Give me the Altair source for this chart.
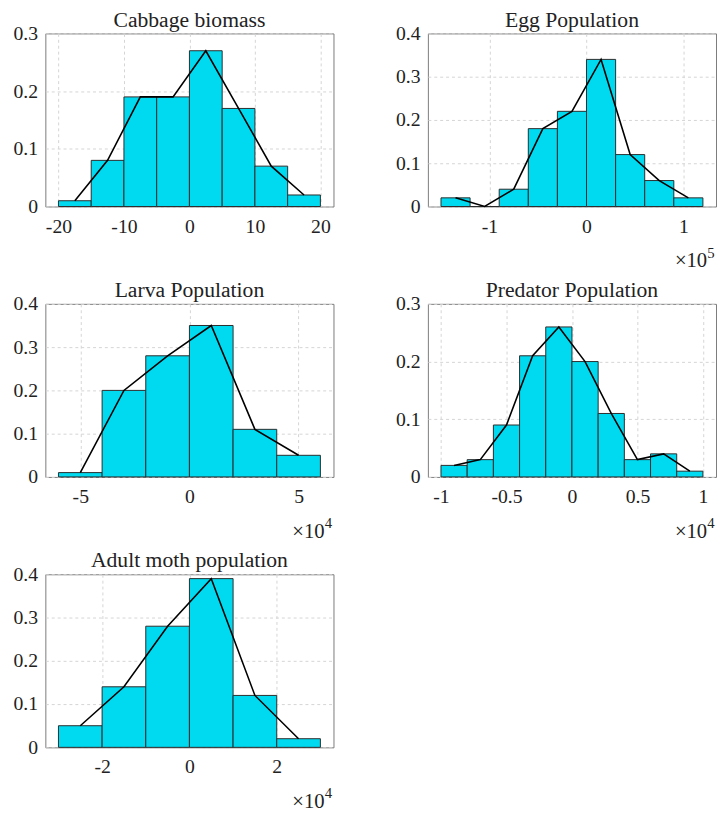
import altair as alt
import pandas as pd

SERIF = "Liberation Serif"
BAR = "#00DAF0"

# histogram data (bin edges in axis units, relative frequency per bin)
cabbage_edges = [-20, -15, -10, -5, 0, 5, 10, 15, 20]
cabbage_freq = [0.01, 0.08, 0.19, 0.19, 0.27, 0.17, 0.07, 0.02]

egg_edges = [-1.5, -1.2, -0.9, -0.6, -0.3, 0, 0.3, 0.6, 0.9, 1.2]  # x 1e5
egg_freq = [0.02, 0.0, 0.04, 0.18, 0.22, 0.34, 0.12, 0.06, 0.02]

larva_edges = [-6, -4, -2, 0, 2, 4, 6]  # x 1e4
larva_freq = [0.01, 0.20, 0.28, 0.35, 0.11, 0.05]

predator_edges = [-1, -0.8, -0.6, -0.4, -0.2, 0, 0.2, 0.4, 0.6, 0.8, 1]  # x 1e4
predator_freq = [0.02, 0.03, 0.09, 0.21, 0.26, 0.20, 0.11, 0.03, 0.04, 0.01]

moth_edges = [-3, -2, -1, 0, 1, 2, 3]  # x 1e4
moth_freq = [0.05, 0.14, 0.28, 0.39, 0.12, 0.02]

W, H = 293, 176
neg_label = "datum.value < 0 ? '-' + format(-datum.value, '~g') : format(datum.value, '~g')"


def panel(title, edges, freq, ymax, xticks, exp=None):
    df = pd.DataFrame({
        'lo': edges[:-1], 'hi': edges[1:], 'f': freq,
        'mid': [(a + b) / 2 for a, b in zip(edges[:-1], edges[1:])],
    })
    pad = (edges[-1] - edges[0]) * 0.05
    xscale = alt.Scale(domain=[edges[0] - pad, edges[-1] + pad], nice=False, zero=False)
    yscale = alt.Scale(domain=[0, ymax], nice=False)
    yticks = [round(v * 0.1, 1) for v in range(int(round(ymax * 10)) + 1)]

    xax = alt.Axis(values=xticks, title=None, grid=True, gridDash=[3, 3], gridColor='#d4d4d4',
                   domain=False, ticks=False, labelExpr=neg_label, labelPadding=10)
    yax = alt.Axis(values=yticks, title=None, grid=True, gridDash=[3, 3], gridColor='#d4d4d4',
                   domain=False, ticks=False, labelExpr=neg_label, labelPadding=8)

    bars = alt.Chart(df).mark_rect(fill=BAR, stroke='#2b2b2b', strokeWidth=1).encode(
        x=alt.X('lo:Q', scale=xscale, axis=xax),
        x2='hi:Q',
        y=alt.Y('f:Q', scale=yscale, axis=yax),
        y2=alt.datum(0),
    )
    line = alt.Chart(df).mark_line(color='black', strokeWidth=1.6).encode(
        x=alt.X('mid:Q', scale=xscale),
        y=alt.Y('f:Q', scale=yscale),
    )
    layers = [bars, line]
    if exp is not None:
        one = alt.Data(values=[{}])
        base = alt.Chart(one).mark_text(font=SERIF, fontSize=21, align='right', color='#222').encode(
            text=alt.value('×10'), x=alt.value(W - 9), y=alt.value(H + 56))
        sup = alt.Chart(one).mark_text(font=SERIF, fontSize=15, align='left', color='#222').encode(
            text=alt.value(exp), x=alt.value(W - 9), y=alt.value(H + 47))
        layers += [base, sup]
    return alt.layer(*layers).properties(
        width=W, height=H,
        title=alt.Title(title, font=SERIF, fontSize=22, fontWeight='normal', color='#222', offset=-8),
    )


p1 = panel('Cabbage biomass', cabbage_edges, cabbage_freq, 0.3, [-20, -10, 0, 10, 20])
p2 = panel('Egg Population', egg_edges, egg_freq, 0.4, [-1, 0, 1], exp='5')
p3 = panel('Larva Population', larva_edges, larva_freq, 0.4, [-5, 0, 5], exp='4')
p4 = panel('Predator Population', predator_edges, predator_freq, 0.3, [-1, -0.5, 0, 0.5, 1], exp='4')
p5 = panel('Adult moth population', moth_edges, moth_freq, 0.4, [-2, 0, 2], exp='4')

chart = alt.vconcat(
    alt.hconcat(p1, p2, spacing=61),
    alt.hconcat(p3, p4, spacing=61),
    p5,
    spacing=6,
).properties(
    padding={'left': 4, 'top': -7, 'right': 0, 'bottom': 0}
).configure_view(
    stroke='#7a7a7a', strokeWidth=1
).configure_axis(
    labelFont=SERIF, labelFontSize=20, labelColor='#222'
)

chart.save("out.html", embed_options={"renderer": "svg", "actions": False})
